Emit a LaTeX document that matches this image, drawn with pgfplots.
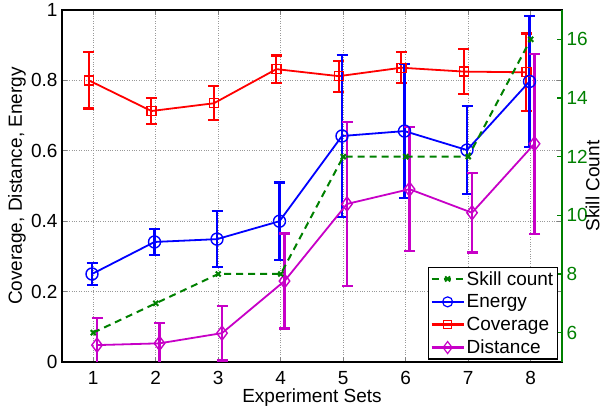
\documentclass[border=0pt]{standalone}
\usepackage{pgfplots}
\pgfplotsset{compat=1.18}
\usepackage{pgfplotstable}
\usepackage{fontspec}
\setmainfont{Liberation Sans}
\definecolor{mgreen}{rgb}{0,0.5,0}
\definecolor{mmag}{rgb}{0.78,0,0.78}

\pgfplotstableread{
x y e
0.93 0.800 0.080
1.93 0.713 0.037
2.93 0.735 0.048
3.93 0.832 0.039
4.93 0.812 0.044
5.93 0.836 0.044
6.93 0.825 0.064
7.93 0.823 0.110
}\coverage

\pgfplotstableread{
x y e
0.98 0.250 0.032
1.98 0.341 0.037
2.98 0.349 0.080
3.98 0.400 0.110
4.98 0.642 0.230
5.98 0.656 0.190
6.98 0.602 0.125
7.98 0.797 0.187
}\energy

\pgfplotstableread{
x y e
1.06 0.048 0.076
2.06 0.053 0.057
3.06 0.082 0.078
4.06 0.230 0.135
5.06 0.449 0.233
6.06 0.491 0.176
7.06 0.424 0.113
8.06 0.620 0.256
}\distance

\pgfplotstableread{
x y
1 6
2 7
3 8
4 8
5 12
6 12
7 12
8 16
}\skill

\begin{document}
\begin{tikzpicture}
\pgfplotsset{
  base/.style={
    width=500pt, height=352pt, scale only axis,
    xmin=0.5, xmax=8.5,
    tick label style={font=\fontsize{19}{22}\selectfont},
    label style={font=\fontsize{19}{22}\selectfont},
    /pgf/number format/assume math mode=true,
    tick align=inside, major tick length=5pt,
    tick style={line width=1.2pt},
  },
  ebar/.style={
    error bars/.cd, y dir=both, y explicit,
    error bar style={line width=2.2pt, solid},
    error mark options={rotate=90, mark size=5.5pt, line width=2.2pt, solid},
  },
  legend image code/.code={\draw[mark repeat=2,mark phase=2] plot coordinates {(0pt,0pt) (16pt,0pt) (32pt,0pt)};},
}
\begin{axis}[base, name=ax,
  ymin=0, ymax=1, ytick={0,0.2,0.4,0.6,0.8,1},
  xtick={1,...,8},
  grid=major, grid style={dotted, gray!80, line width=0.7pt},
  axis line style={line width=1.8pt},
  xticklabel style={yshift=-6pt},
  yticklabel style={xshift=-1pt},
  ylabel={Coverage, Distance, Energy},
  ylabel style={at={(axis description cs:-0.09,0.5)}, anchor=center, rotate=0},
  xlabel={Experiment Sets},
  xlabel style={at={(axis description cs:0.5,-0.1)}, anchor=center},
]
\addplot[red, line width=1.8pt, mark=square, mark size=4.5pt, mark options={line width=1.4pt, solid}, ebar] table[x=x, y=y, y error=e] {\coverage};
\addplot[blue, line width=1.8pt, mark=o, mark size=6pt, mark options={line width=1.4pt, solid}, ebar] table[x=x, y=y, y error=e] {\energy};
\addplot[mmag, line width=1.8pt, mark=diamond, mark size=7pt, mark options={line width=1.4pt, solid}, ebar] table[x=x, y=y, y error=e] {\distance};
\end{axis}
\begin{axis}[base,
  ymin=5, ymax=17, ytick={6,8,...,16},
  axis y line*=right, axis x line=none,
  y axis line style={mgreen, line width=1.8pt},
  ytick style={mgreen, line width=1.2pt},
  yticklabel style={mgreen, xshift=1pt},
  ylabel={Skill Count},
  ylabel style={at={(axis description cs:1.061,0.5)}, anchor=center},
  legend style={at={(rel axis cs:0.992,0.006)}, anchor=south east, draw=black, line width=1.4pt, fill=white, font=\fontsize{19}{22}\selectfont, legend cell align=left, row sep=4pt, inner sep=2pt},
]
\addplot[mgreen, dashed, dash pattern=on 7pt off 5pt, line width=2pt, mark=x, mark size=3.5pt, mark options={solid, line width=2pt}] table[x=x, y=y] {\skill};
\addlegendentry{Skill count}
\addlegendimage{blue, line width=2.2pt, mark=o, mark size=5pt, mark options={line width=1.2pt}}
\addlegendentry{Energy}
\addlegendimage{red, line width=2.2pt, mark=square, mark size=4pt, mark options={line width=1.2pt}}
\addlegendentry{Coverage}
\addlegendimage{mmag, line width=2.2pt, mark=diamond, mark size=6pt, mark options={line width=1.2pt}}
\addlegendentry{Distance}
\end{axis}
\pgfresetboundingbox
\path[use as bounding box] ([shift={(-62pt,-46pt)}]ax.south west) rectangle ([shift={(42pt,10pt)}]ax.north east);
\end{tikzpicture}
\end{document}
